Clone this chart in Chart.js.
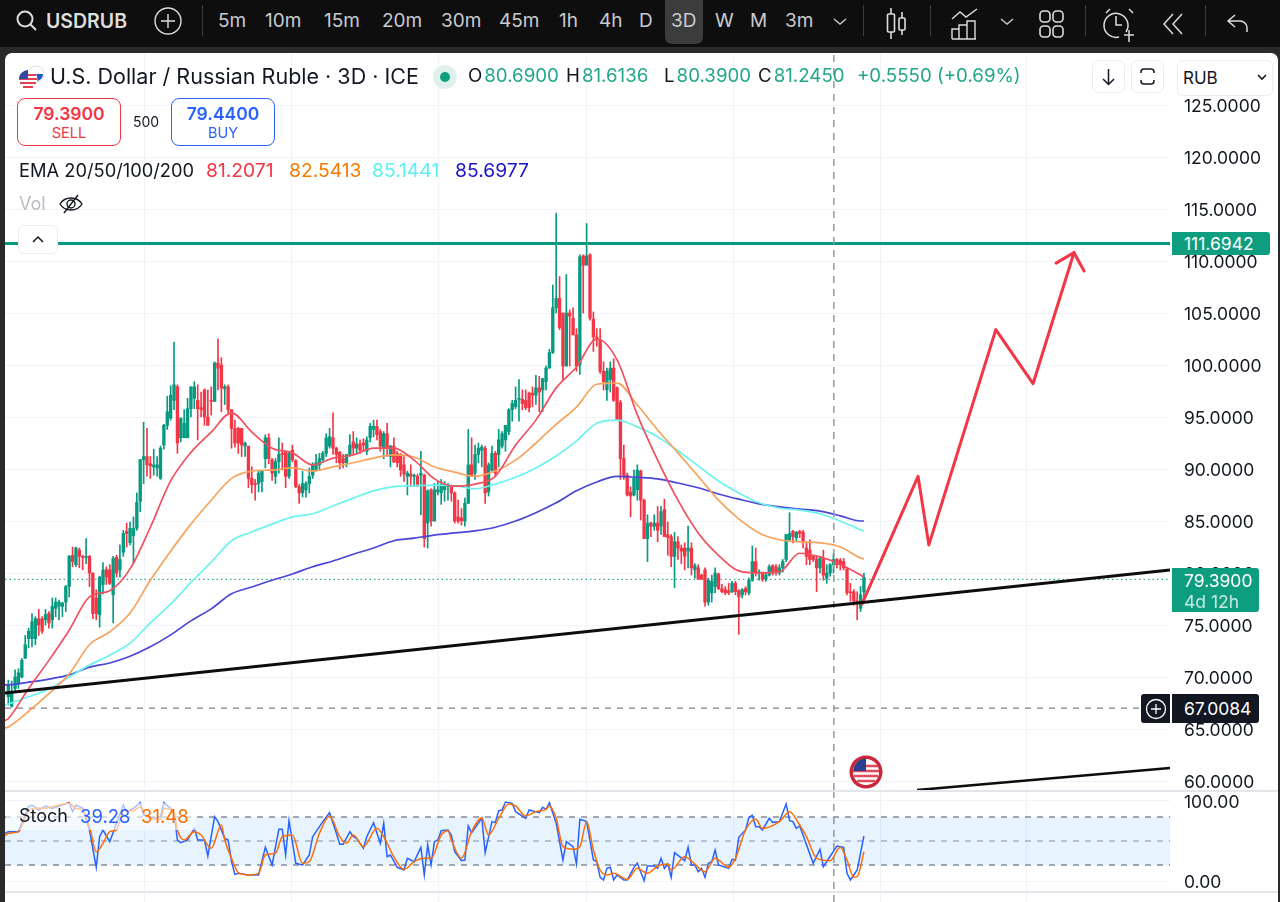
<!DOCTYPE html>
<html>
<head>
<meta charset="utf-8">
<title>USDRUB 3D</title>
<script src="https://cdn.jsdelivr.net/npm/chart.js@4"></script>
<style>
    html, body { margin: 0; padding: 0; width: 1280px; height: 902px; overflow: hidden; background: #2a2a2a; font-family: 'Inter', sans-serif; color: #131722; }
    .abs { position: absolute; white-space: nowrap; }
    #toolbar { position: absolute; left: 0; top: 0; width: 1280px; height: 47px; background: #0e0e0e; }
    #panel { position: absolute; left: 5px; top: 53px; width: 1273px; height: 849px; background: #fff; border-radius: 7px 7px 0 0; }
    #priceChart { position: absolute; left: 5px; top: 53px; }
    #stochChart { position: absolute; left: 5px; top: 792px; }
    .tf { position: absolute; top: 9px; font-size: 19px; line-height: 24px; color: #c8cad0; }
    .sep { position: absolute; top: 5px; width: 1px; height: 31px; background: #3d3d3d; }
    .ohlc { position: absolute; top: 64px; font-size: 18.7px; line-height: 24px; color: #22a68a; white-space: nowrap; }
    .ohlc b { font-weight: 400; color: #131722; margin-right: 2px; }
    .trade { position: absolute; top: 98px; width: 102px; height: 46px; border-radius: 8px; text-align: center; background: #fff; }
    .trade .p { font-size: 17.5px; font-weight: 600; line-height: 20px; margin-top: 5px; }
    .trade .s { font-size: 14.5px; line-height: 18px; }
    .btn { position: absolute; background: #fff; border: 1px solid #ececec; border-radius: 6px; box-sizing: border-box; }
    .sepH { position: absolute; left: 5px; width: 1273px; height: 2px; background: #e3e5ea; }
    .axisBox { position: absolute; left: 1172px; width: 87px; border-radius: 0 3px 3px 0; color: #fff; box-sizing: border-box; padding-left: 12px; font-size: 17.5px; }
    .emaVal { position: absolute; top: 158px; font-size: 19.3px; line-height: 24px; }
</style>
</head>
<body>
<div id="toolbar">
    <svg class="abs" style="left:15px;top:9px" width="24" height="24" fill="none" stroke="#ddd" stroke-width="2"><circle cx="10" cy="10" r="7.5"/><path d="M15.5 15.5L21 21"/></svg>
    <div class="abs" style="left:46px;top:9px;font-size:19.5px;line-height:24px;font-weight:600;color:#ddd">USDRUB</div>
    <svg class="abs" style="left:154px;top:7px" width="28" height="28" fill="none" stroke="#ddd" stroke-width="1.4"><circle cx="14" cy="14" r="13"/><path d="M14 7v14M7 14h14"/></svg>
    <div class="sep" style="left:202px"></div>
    <div class="abs" style="left:665px;top:0;width:38px;height:44px;background:#3c3c3c;border-radius:0 0 7px 7px"></div>
    <span class="tf" style="left:218px">5m</span><span class="tf" style="left:265px">10m</span><span class="tf" style="left:324px">15m</span>
    <span class="tf" style="left:382px">20m</span><span class="tf" style="left:441px">30m</span><span class="tf" style="left:499px">45m</span>
    <span class="tf" style="left:559px">1h</span><span class="tf" style="left:599px">4h</span><span class="tf" style="left:639px">D</span>
    <span class="tf" style="left:671px">3D</span><span class="tf" style="left:715px">W</span><span class="tf" style="left:750px">M</span><span class="tf" style="left:785px">3m</span>
    <svg class="abs" style="left:832px;top:17px" width="16" height="10" fill="none" stroke="#c8cad0" stroke-width="1.4"><path d="M2 2l6 5 6-5"/></svg>
    <div class="sep" style="left:863px"></div>
    <svg class="abs" style="left:885px;top:6px" width="24" height="36" fill="none" stroke="#ddd" stroke-width="1.6"><path d="M6 2v6M6 26v7M17 6v6M17 24v5"/><rect x="2.5" y="8" width="7" height="18" rx="1"/><rect x="14" y="12" width="6" height="12" rx="1"/></svg>
    <div class="sep" style="left:930px"></div>
    <svg class="abs" style="left:950px;top:7px" width="30" height="34" fill="none" stroke="#ddd" stroke-width="1.4"><path d="M2 12l8-7 6 5 11-8M2 32V22h7v10M9 32V18h8v14M17 32V14h8v18M2 32h24"/></svg>
    <svg class="abs" style="left:999px;top:17px" width="16" height="10" fill="none" stroke="#c8cad0" stroke-width="1.4"><path d="M2 2l6 5 6-5"/></svg>
    <svg class="abs" style="left:1038px;top:8px" width="26" height="32" fill="none" stroke="#ddd" stroke-width="1.6"><rect x="2" y="3" width="10" height="11" rx="3.5"/><rect x="15" y="3" width="10" height="11" rx="3.5"/><rect x="2" y="18" width="10" height="11" rx="3.5"/><rect x="15" y="18" width="10" height="11" rx="3.5"/></svg>
    <div class="sep" style="left:1085px"></div>
    <svg class="abs" style="left:1102px;top:6px" width="32" height="38" fill="none" stroke="#ddd" stroke-width="1.5"><path d="M24 26a12 12 0 1 0-7 5M14 10v9h6M4 7l4-4M27 3l4 4M22 29h10M27 24v12"/></svg>
    <svg class="abs" style="left:1161px;top:11px" width="24" height="26" fill="none" stroke="#ddd" stroke-width="1.5"><path d="M12 3L3 13l9 10M21 3l-9 10 9 10"/></svg>
    <div class="sep" style="left:1205px"></div>
    <svg class="abs" style="left:1226px;top:12px" width="24" height="24" fill="none" stroke="#ddd" stroke-width="1.5"><path d="M9 3L2 9l7 6M2 9h12a7 7 0 0 1 7 7v4"/></svg>
</div>
<div id="panel"></div>
<canvas id="priceChart" width="1273" height="737"></canvas>
<canvas id="stochChart" width="1273" height="110"></canvas>
<div class="sepH" style="top:790px"></div>
<div class="sepH" style="top:891px"></div>

<!-- legenda do topo -->
<svg class="abs" style="left:17px;top:65px" width="30" height="26">
    <circle cx="19" cy="9" r="8" fill="#fff" stroke="#ddd"/><path d="M12 9h14a7 7 0 0 1-7 7 7 7 0 0 1-7-7z" fill="#1c57c4"/>
    <circle cx="11" cy="14" r="9.5" fill="#fff"/><path d="M3 10h16M2 14h18M3 18h16M6 22h10" stroke="#e5414f" stroke-width="2"/><path d="M2 14a9 9 0 0 1 9-9v9z" fill="#2c4aa0"/>
</svg>
<div class="abs" style="left:50px;top:62px;font-size:21.5px;line-height:28px">U.S. Dollar / Russian Ruble · 3D · ICE</div>
<svg class="abs" style="left:433px;top:65px" width="24" height="24"><circle cx="12" cy="12" r="12" fill="#dff1ec"/><circle cx="12" cy="12" r="5" fill="#0f9d80"/></svg>
<div class="ohlc" style="left:468px"><b>O</b>80.6900</div>
<div class="ohlc" style="left:566px"><b>H</b>81.6136</div>
<div class="ohlc" style="left:664px"><b>L</b>80.3900</div>
<div class="ohlc" style="left:758px"><b>C</b>81.2450</div>
<div class="ohlc" style="left:857px">+0.5550 (+0.69%)</div>
<div class="btn" style="left:1092px;top:60px;width:33px;height:33px"><svg width="31" height="31" fill="none" stroke="#131722" stroke-width="1.5"><path d="M15.5 8v15M10 18l5.5 5.5L21 18"/></svg></div>
<div class="btn" style="left:1131px;top:60px;width:33px;height:33px"><svg width="31" height="31" fill="none" stroke="#131722" stroke-width="1.5"><path d="M9 12V11a3 3 0 0 1 3-3h7a3 3 0 0 1 3 3v1M9 19v1a3 3 0 0 0 3 3h7a3 3 0 0 0 3-3v-1"/></svg></div>
<div class="btn" style="left:1177px;top:60px;width:96px;height:36px;font-size:17px;line-height:34px;padding-left:5px">RUB<svg class="abs" style="left:79px;top:13px" width="10" height="8" fill="none" stroke="#131722" stroke-width="1.6"><path d="M1 1l4 4 4-4"/></svg></div>
<div class="trade" style="left:17px;border:1.5px solid #f23645;color:#f23645"><div class="p">79.3900</div><div class="s">SELL</div></div>
<div class="abs" style="left:133px;top:113px;font-size:14px;line-height:18px">500</div>
<div class="trade" style="left:171px;border:1.5px solid #2962ff;color:#2962ff"><div class="p">79.4400</div><div class="s">BUY</div></div>
<div class="abs" style="left:19px;top:158px;font-size:18.3px;line-height:24px">EMA 20/50/100/200</div>
<div class="emaVal" style="left:206px;color:#f23645">81.2071</div>
<div class="emaVal" style="left:289px;color:#f57c00">82.5413</div>
<div class="emaVal" style="left:372px;color:#5cf0f0">85.1441</div>
<div class="emaVal" style="left:455px;color:#1a14c8">85.6977</div>
<div class="abs" style="left:19px;top:192px;font-size:18px;line-height:24px;color:#b8bbc2">Vol</div>
<svg class="abs" style="left:58px;top:192px" width="26" height="24" fill="none" stroke="#131722" stroke-width="1.4"><path d="M2 12c5-8 17-8 22 0-5 8-17 8-22 0z"/><circle cx="13" cy="12" r="4"/><path d="M20 3L6 21"/></svg>
<div class="btn" style="left:18px;top:225px;width:40px;height:29px"><svg width="38" height="27" fill="none" stroke="#131722" stroke-width="1.5"><path d="M14 16l5-5 5 5"/></svg></div>

<!-- etiquetas do eixo -->
<div class="axisBox" style="top:232px;width:98px;height:23px;background:#0f9d80;line-height:23px">111.6942</div>
<div class="axisBox" style="top:568px;height:44px;background:#0f9d80;line-height:21px;padding-top:2px">79.3900<br><span style="color:#c6e9e0">4d 12h</span></div>
<div class="axisBox" style="top:694px;height:29px;background:#131722;line-height:29px">67.0084</div>
<div class="abs" style="left:1141px;top:694px;width:29px;height:29px;background:#131722;border-radius:3px 0 0 3px"><svg width="29" height="29" fill="none" stroke="#fff" stroke-width="1.3"><circle cx="15" cy="15" r="9.5"/><path d="M15 10v10M10 15h10"/></svg></div>

<!-- bandeira -->
<svg class="abs" style="left:849px;top:755px" width="34" height="34">
    <circle cx="17" cy="17" r="16.5" fill="#c9283c"/><circle cx="17" cy="17" r="13" fill="#fff"/>
    <path d="M5 11h24M4 16h26M5 21h24M8 26h18" stroke="#e04a5a" stroke-width="2.5"/><path d="M4.5 16a12.5 12.5 0 0 1 12.5-12.5V16z" fill="#2c3f8f"/>
</svg>

<!-- legenda do estocastico -->
<div class="abs" style="left:6px;top:803px;width:190px;height:27px;background:rgba(255,255,255,0.6)"></div>
<div class="abs" style="left:19px;top:804px;font-size:18px;line-height:24px">Stoch</div>
<div class="abs" style="left:80px;top:804px;font-size:18.5px;line-height:24px;color:#2962ff">39.28</div>
<div class="abs" style="left:141px;top:804px;font-size:18.5px;line-height:24px;color:#ff6d00">31.48</div>

<script>
// Chart.js defaults
Chart.defaults.font.family = "'Inter', sans-serif";
Chart.defaults.color = '#131722';

// Candles (USDRUB 3D)
const opens = [
    68.1,67.2,68.9,69.4,70.0,71.8,73.7,73.7,73.7,75.6,
    75.6,75.5,76.1,75.5,76.6,76.8,76.8,77.2,78.7,81.7,
    80.8,82.2,81.6,81.5,81.6,80.0,77.6,76.0,78.9,80.3,
    80.3,77.9,81.5,80.3,82.0,84.0,82.9,83.6,84.3,86.9,
    90.9,91.2,90.5,90.2,90.1,89.1,92.3,94.2,94.9,96.6,
    97.9,93.0,93.0,93.0,95.8,96.8,96.6,95.9,97.6,95.0,
    96.6,96.5,100.2,100.0,97.7,97.9,95.7,93.9,93.9,93.9,
    92.2,92.2,89.1,88.6,88.6,88.8,91.0,93.0,90.9,89.3,
    90.7,91.5,91.6,89.3,91.8,90.8,88.3,87.7,88.0,88.6,
    89.4,89.9,90.4,90.9,91.5,92.2,93.0,92.0,91.6,91.0,
    90.6,91.4,92.6,92.0,92.4,92.5,91.7,93.0,93.8,94.1,
    93.6,92.0,93.4,91.2,92.2,91.5,91.4,90.4,89.3,89.5,
    89.3,89.3,89.4,89.4,84.8,88.0,85.0,87.8,87.7,88.0,
    88.3,88.3,87.7,85.4,85.3,85.0,86.7,90.4,89.6,91.4,
    91.8,92.0,87.8,89.9,91.5,91.4,92.2,92.8,93.6,95.7,
    96.0,96.7,96.7,96.6,97.3,97.3,97.1,97.8,97.6,98.4,
    99.7,101.2,105.5,106.4,105.0,99.9,105.0,104.5,102.9,100.0,
    110.5,109.6,110.6,104.4,102.7,102.4,99.4,97.6,98.6,99.7,
    97.8,96.4,91.0,89.4,87.8,87.5,88.0,89.8,87.0,83.3,
    84.8,84.5,84.8,84.5,86.1,83.7,83.5,81.6,83.0,82.4,
    82.4,82.1,82.4,80.3,80.5,79.8,80.3,77.2,78.1,78.7,
    79.9,78.5,78.4,78.3,78.2,79.0,78.3,77.9,78.5,78.1,
    79.3,81.1,80.0,80.0,79.4,79.8,80.7,80.6,80.0,80.5,
    81.3,83.2,84.0,83.4,84.0,83.9,82.4,82.2,81.6,81.3,
    80.5,81.4,79.5,80.0,80.8,81.3,81.2,81.1,80.4,78.2,
    78.2,77.3,76.6,78.2
];
const highs = [
    69.7,69.6,70.7,70.8,71.8,74.0,74.7,76.1,75.8,76.5,
    75.8,76.5,76.3,77.6,77.6,77.4,77.2,78.8,81.7,82.5,
    82.5,82.4,81.7,83.3,81.7,80.0,78.4,79.7,81.0,80.6,
    80.8,81.6,81.7,82.7,84.1,84.8,84.9,85.4,87.7,90.9,
    94.5,93.9,91.2,91.9,91.2,92.2,94.3,97.0,98.0,102.2,
    98.1,94.9,95.7,96.8,97.9,98.4,98.1,97.4,97.7,97.6,
    97.9,100.3,102.5,100.7,98.1,98.1,95.7,94.7,94.0,93.9,
    92.6,92.2,90.2,89.0,89.8,89.8,93.3,93.4,91.0,91.0,
    93.0,92.5,91.7,91.7,92.3,90.9,88.5,89.8,88.8,90.1,
    90.6,91.4,91.5,91.7,93.4,93.9,95.4,92.1,91.7,91.4,
    91.4,93.3,93.6,93.0,92.8,92.9,93.1,94.4,94.7,94.7,
    93.8,93.6,94.4,92.3,93.0,91.7,91.5,91.2,89.8,90.4,
    89.5,89.5,91.7,89.5,88.0,88.1,88.6,88.8,89.0,88.8,
    88.6,88.3,87.8,87.0,86.2,87.2,93.8,93.0,92.3,92.5,
    92.3,92.2,90.6,92.2,91.7,93.8,93.6,94.2,95.8,96.6,
    97.9,98.6,97.6,97.6,97.4,97.9,99.0,98.9,98.7,99.9,
    101.5,107.7,114.6,108.5,105.0,108.7,105.3,105.5,103.5,110.6,
    110.6,113.6,110.7,105.1,103.5,103.5,100.3,99.7,100.3,100.6,
    97.9,96.6,92.3,89.6,88.3,89.9,90.4,89.9,87.1,85.6,
    84.9,85.6,86.4,86.4,87.1,84.9,83.7,83.9,83.5,82.7,
    82.9,84.5,82.9,80.9,80.8,79.9,80.5,79.5,79.8,80.5,
    80.0,78.9,78.7,79.0,79.2,79.2,78.4,78.5,78.7,79.5,
    82.6,82.4,80.3,80.1,80.0,80.8,80.8,80.8,80.8,81.3,
    83.7,85.8,84.1,84.0,84.1,84.1,83.0,83.2,81.7,81.6,
    81.6,82.2,80.8,80.9,81.9,81.4,81.4,81.4,80.5,79.0,
    78.4,78.2,78.7,80.0
];
const lows = [
    67.3,67.1,68.6,68.9,69.9,71.8,72.8,72.9,73.1,74.0,
    74.2,75.0,74.7,74.7,75.8,75.5,75.8,76.3,77.7,80.6,
    80.6,80.5,80.3,80.9,78.7,75.6,75.5,74.8,78.0,78.9,
    78.9,75.2,79.6,79.6,81.6,82.5,82.7,80.9,84.1,85.9,
    88.6,89.3,89.1,89.4,89.3,89.0,91.9,93.8,94.7,95.7,
    91.5,92.6,93.0,93.0,95.0,95.8,92.8,95.0,94.2,94.2,
    95.2,96.5,97.6,95.5,96.2,95.4,92.0,92.1,91.5,91.2,
    91.2,88.2,87.7,87.0,87.8,87.8,90.1,90.5,88.9,88.6,
    89.6,89.9,88.2,89.1,90.7,88.2,86.7,87.3,87.3,87.7,
    89.1,89.8,89.9,90.7,91.2,92.0,91.4,90.6,90.0,90.1,
    90.2,91.2,91.4,91.5,91.5,91.7,91.4,92.6,93.1,92.8,
    91.7,91.0,91.2,90.2,90.6,90.2,89.3,88.8,87.5,88.3,
    88.3,88.3,85.6,82.5,82.4,84.5,85.0,87.5,86.6,86.9,
    87.0,86.9,84.8,84.8,84.6,84.5,86.7,89.3,89.0,90.6,
    90.2,86.7,87.4,89.8,89.3,90.2,92.0,91.7,93.3,94.6,
    95.8,94.6,95.7,95.7,95.5,96.0,96.2,95.5,95.5,97.6,
    99.7,101.1,105.0,103.4,98.6,99.9,99.9,102.9,99.4,99.1,
    105.0,109.6,104.3,101.3,101.8,99.2,97.6,96.6,97.4,96.5,
    94.7,89.0,89.0,87.4,85.4,87.4,87.0,85.1,83.3,81.1,
    83.5,84.1,83.0,83.7,83.5,81.7,80.6,78.6,81.3,80.9,
    80.3,80.5,79.8,79.5,79.4,79.4,76.8,76.9,77.2,78.1,
    78.4,78.1,77.9,77.9,78.1,77.9,74.1,77.6,77.9,77.9,
    79.2,79.7,79.3,79.2,79.2,79.7,79.8,79.8,79.8,80.1,
    81.1,83.0,82.9,83.0,83.4,82.4,80.8,80.8,81.1,78.2,
    80.0,79.3,79.0,79.7,80.0,80.5,80.3,80.3,77.9,77.3,
    76.9,75.5,76.3,77.1
];
const closes = [
    69.2,68.6,70.0,70.4,71.6,73.1,74.4,75.3,75.6,75.0,
    74.4,76.0,75.2,76.8,77.2,77.2,77.1,78.7,81.6,81.1,
    82.4,81.6,81.5,81.6,80.0,76.1,76.1,79.6,80.3,79.6,
    79.0,81.4,80.0,81.3,83.8,83.8,84.3,84.3,86.8,90.9,
    91.2,90.4,90.3,90.4,90.4,92.0,94.2,95.5,97.1,98.1,
    92.5,94.9,94.4,95.8,97.9,97.9,95.8,95.7,95.0,94.2,
    96.5,100.2,99.7,97.8,97.9,95.7,93.9,92.5,92.5,92.3,
    92.5,89.1,88.5,88.5,89.6,89.8,93.0,91.0,89.6,90.7,
    91.4,91.4,89.3,91.5,90.9,88.3,87.7,88.6,88.6,89.3,
    90.4,90.6,91.0,91.5,93.0,93.1,92.0,91.4,90.6,90.6,
    91.4,92.3,92.0,92.4,91.8,92.3,92.8,94.1,94.1,93.3,
    92.2,93.4,92.0,92.2,90.7,90.6,89.9,89.5,89.6,89.3,
    89.4,88.5,89.6,83.3,87.9,85.0,88.0,88.0,88.5,88.5,
    88.5,87.7,85.0,85.0,85.0,86.7,90.4,89.3,91.4,92.0,
    92.1,87.7,90.4,91.5,89.6,92.8,93.4,94.2,95.7,96.3,
    96.6,96.8,96.3,95.9,95.9,97.1,97.8,97.4,98.7,99.7,
    101.2,105.5,106.4,103.6,99.9,105.0,104.7,102.9,99.9,110.4,
    109.6,110.5,104.5,102.7,102.4,99.4,98.4,99.4,99.7,96.6,
    94.7,91.0,89.3,87.5,87.4,89.1,89.9,87.0,83.3,84.8,
    84.5,84.8,84.1,85.9,83.5,83.4,81.6,83.0,82.4,82.1,
    81.6,82.4,80.5,80.7,79.4,79.4,77.2,79.3,79.2,80.0,
    78.5,78.2,78.1,78.1,79.0,78.2,77.7,78.4,78.2,79.3,
    81.1,80.0,80.1,79.4,79.8,80.6,80.1,80.1,80.5,81.1,
    83.7,83.8,83.5,83.9,83.8,83.0,81.6,81.3,81.3,80.5,
    81.4,79.8,80.0,80.8,81.3,80.8,80.8,80.5,78.1,78.1,
    77.3,77.1,77.9,79.6
];

// EMAs, lidas a cada 6 candles
const emaBars = [-1,0,6,12,18,24,30,36,42,48,54,60,66,72,78,84,90,96,102,108,114,120,126,132,138,144,150,156,162,168,174,180,186,192,198,204,210,216,222,228,234,240,246,252,253];
const ema20 = [65.8,66.0,68.9,71.6,74.5,77.7,78.3,80.4,84.4,88.85,91.6,93.55,95.4,93.55,92.0,91.55,90.4,91.05,91.35,92.0,92.0,90.85,89.05,88.35,88.55,89.3,92.3,94.7,97.8,99.8,102.5,100.5,95.2,90.85,87.0,83.85,81.7,80.2,80.0,80.1,81.9,81.55,80.85,79.8,79.6];
const ema50 = [65.1,65.2,66.7,68.4,70.3,73.1,74.35,76.15,79.3,82.1,84.7,87.0,89.1,89.8,89.9,90.1,89.8,90.2,90.6,91.05,91.35,91.15,90.2,89.7,89.3,89.8,90.85,92.5,94.3,95.95,98.15,98.25,96.15,93.75,91.55,89.3,87.0,85.2,83.85,83.2,83.0,82.9,82.5,81.45,81.35];
const ema100 = [67.3,67.4,68.1,68.85,70.0,71.15,72.1,73.25,75.2,77.0,79.1,81.05,83.1,83.95,84.7,85.4,85.7,86.45,87.2,87.9,88.3,88.4,88.45,88.4,88.1,88.55,89.2,90.1,91.25,92.7,94.4,94.7,94.05,93.1,91.75,90.3,88.85,87.7,86.75,86.25,86.05,85.7,85.0,84.15,84.05];
const ema200 = [69.25,69.25,69.5,69.8,70.2,70.95,71.35,72.0,72.9,74.05,75.4,76.55,78.0,78.65,79.3,79.9,80.6,81.15,81.8,82.4,83.1,83.35,83.65,83.85,84.05,84.4,85.0,85.8,86.75,87.9,88.75,89.3,89.2,89.05,88.65,88.2,87.6,87.1,86.65,86.35,86.15,85.95,85.5,85.0,85.0];

// Estocastico
const kBars = [-1,0,3,6,7,9,11,13,18,19,20,22,24,26,27,28,30,32,34,35,37,39,40,43,45,46,48,49,50,51,53,55,56,58,59,61,62,64,65,66,67,68,71,74,76,78,80,81,82,83,85,87,89,90,93,95,97,98,99,101,102,103,105,106,108,110,111,112,113,115,117,118,120,122,123,124,125,126,127,128,130,131,132,134,135,136,137,140,141,143,144,145,146,147,149,150,153,154,157,158,159,160,162,164,165,167,168,169,171,173,174,175,176,177,178,179,180,182,183,185,186,188,189,191,192,193,194,195,196,197,200,201,202,203,204,205,206,207,208,209,210,213,214,215,216,218,219,220,221,222,223,225,226,228,230,231,232,233,234,238,240,241,245,247,248,249,251,253];
const kValues = [59.6,61.7,61.7,93,95,88.7,93.75,90.8,97.9,86.7,95,90.8,63.75,17.1,55.4,63.75,49.2,72.1,95,86.7,90.8,97.9,82.5,78.3,80.4,97.9,90.8,84.6,51.25,47.9,51.25,65.8,51.25,51.25,31.25,80.4,74.2,53.3,51.25,24.2,8.3,9.6,7.5,7.5,42.1,20,64.6,64.6,32.5,75.4,22.1,20,32.5,55.4,74.2,85.4,59.6,45.8,45.8,61.7,55.4,53.3,40.8,55.4,72.9,47.1,72.1,30.4,32.5,17.1,13.75,28.3,24.2,42.1,7.5,45,20,49.2,51.25,62.9,63.75,57.5,36.65,25.4,26.25,68.75,60.4,78.75,35.4,74.2,72.9,87.9,88.75,98.75,97.1,86.7,78.3,88.75,85.4,92.1,89.6,97.9,72.1,26.25,49.2,42.9,21.25,77.1,74.2,26.25,24.2,4.6,1.25,15.8,17.1,1.25,7.5,1.25,1.25,17.1,22.1,0.4,18.75,18.75,15.8,28.3,15.8,21.25,4.6,35.4,25.4,42.1,20,20,11.7,15.8,4.6,22.1,24.2,38.75,20,15.8,27.1,26.25,54.6,63.75,79.6,82.1,67.9,67.9,63.75,78.3,73.3,74.2,96.25,75.4,74.2,65.8,68.75,22.1,39.6,17.9,43.75,42.1,9.6,1.25,13.75,56.25];
const dBars = [-1,0,3,6,8,11,13,18,20,22,24,26,28,30,32,34,37,39,41,45,46,49,50,52,55,57,60,63,64,66,68,71,74,76,79,81,84,87,89,92,95,98,100,102,105,109,111,114,117,120,123,125,128,130,131,134,137,140,142,145,148,150,153,156,159,160,162,164,167,169,171,173,175,177,179,183,186,189,192,195,196,200,203,206,209,213,215,218,221,223,228,231,234,236,239,243,246,248,250,251,253];
const dValues = [56.25,59.6,61.7,87.9,90.8,90.8,92.9,97.1,90.8,88.75,67.9,36.65,47.1,61.7,63.75,87.9,87.9,92.9,80.4,77.1,90.8,84.6,63.75,51.25,61.7,57.5,40.8,70,51.25,28.3,10.4,7.5,9.6,32.5,34.6,55.4,57.5,22.1,24.2,59.6,81.25,55.4,47.1,57.5,42.9,65.8,55.4,30.4,14.6,24.2,28.3,28.3,57.5,62.9,51.25,28.3,61.7,78.75,57.5,78.3,96.25,93.75,81.25,86.7,89.6,93.75,78.3,42.9,39.6,42.9,74.2,38.75,13.75,7.5,9.6,2.1,15.8,9.6,18.75,21.25,13.75,30.4,21.25,11.7,28.3,17.1,28.3,63.75,77.1,65.8,74.2,86.7,70,55.4,28.3,25.4,42.1,26.25,4.6,5.4,36.65];
const stochLevels = [80, 50, 20];
const stochTicks = [100, 0];

// Niveis e desenhos
const resistanceLevel = 111.6942;
const lastPrice = 79.39;
const alertLevel = 67.0084;
const trendBars = [-1, 343.5];
const trendPrices = [68.46, 80.29];
const lowerTrendBars = [268.7, 343.5];
const lowerTrendPrices = [59.13, 61.25];
const arrowBars = [252.4, 269, 272.2, 292, 303, 315.1];
const arrowPrices = [77.0, 89.3, 82.7, 103.4, 98.2, 110.8];
const arrowHeadBars = [309.8, 315.1, 318.1];
const arrowHeadPrices = [109.8, 110.8, 109.04];
const crosshairBar = 244.1;
const gridBars = [40.4, 83.7, 127.1, 170.9, 214.3, 257.8, 301.2];

const GREEN = '#089981';
const RED = '#f23645';
const GRID = '#f1f3f8';
const X_MIN = -0.98;
const X_MAX = 343.5;

function points(xs, ys) {
    return xs.map((x, i) => ({ x: x, y: ys[i] }));
}

function lineSet(data, color, width, extra) {
    return Object.assign({
        type: 'line',
        data: data,
        borderColor: color,
        borderWidth: width,
        pointRadius: 0,
        fill: false,
        order: 1
    }, extra || {});
}

function xAxis() {
    return {
        type: 'linear',
        min: X_MIN,
        max: X_MAX,
        offset: false,
        border: { display: false },
        grid: { color: GRID, drawTicks: false, offset: false },
        ticks: { display: false },
        afterBuildTicks: (scale) => { scale.ticks = gridBars.map(v => ({ value: v })); },
        afterFit: (scale) => { scale.height = 0; }
    };
}

function fitAxis(scale) {
    scale.width = 108;
    scale.paddingTop = 0;
    scale.paddingBottom = 0;
}

const baseOptions = {
    responsive: false,
    animation: false,
    events: [],
    layout: { padding: 0 },
    plugins: { legend: { display: false }, tooltip: { enabled: false } }
};

function renderPriceChart() {
    const ctx = document.getElementById('priceChart').getContext('2d');
    const barColors = closes.map((c, i) => (c >= opens[i] ? GREEN : RED));
    const yMin = 59.135;
    const yMax = 130;
    const level = (v) => points([X_MIN, X_MAX], [v, v]);

    new Chart(ctx, {
        type: 'bar',
        data: {
            datasets: [
                lineSet(level(resistanceLevel), GREEN, 3, { order: 4 }),
                lineSet(level(lastPrice), GREEN, 1, { borderDash: [1.5, 3], order: 7 }),
                lineSet(points([X_MIN, 335], [alertLevel, alertLevel]), '#787b86', 1.2, { borderDash: [6, 6], order: 7 }),
                lineSet(points(trendBars, trendPrices), '#0d0d0d', 3),
                lineSet(points(lowerTrendBars, lowerTrendPrices), '#0d0d0d', 2.5),
                lineSet(points(arrowBars, arrowPrices), RED, 3, { borderCapStyle: 'round', borderJoinStyle: 'round' }),
                lineSet(points(arrowHeadBars, arrowHeadPrices), RED, 3, { borderCapStyle: 'round' }),
                lineSet(points([crosshairBar, crosshairBar], [yMin, yMax]), '#9598a1', 1.5, { borderDash: [7, 6], order: 2 }),
                lineSet(points(emaBars, ema20), '#f0505f', 1.7, { cubicInterpolationMode: 'monotone', order: 3 }),
                lineSet(points(emaBars, ema50), '#f7a35c', 1.7, { cubicInterpolationMode: 'monotone', order: 3 }),
                lineSet(points(emaBars, ema100), '#6cf3ee', 1.7, { cubicInterpolationMode: 'monotone', order: 3 }),
                lineSet(points(emaBars, ema200), '#4a46d8', 1.7, { cubicInterpolationMode: 'monotone', order: 3 }),
                {
                    // corpo
                    data: opens.map((o, i) => ({ x: i, y: [o, closes[i]] })),
                    backgroundColor: barColors,
                    barThickness: 2.7,
                    minBarLength: 1,
                    grouped: false,
                    order: 5
                },
                {
                    // pavio
                    data: highs.map((h, i) => ({ x: i, y: [lows[i], h] })),
                    backgroundColor: barColors,
                    barThickness: 1,
                    grouped: false,
                    order: 6
                }
            ]
        },
        options: Object.assign({}, baseOptions, {
            scales: {
                x: xAxis(),
                y: {
                    position: 'right',
                    min: yMin,
                    max: yMax,
                    border: { display: false },
                    grid: {
                        drawTicks: false,
                        color: (c) => (c.tick && c.tick.value > 125 ? 'transparent' : GRID)
                    },
                    ticks: {
                        stepSize: 5,
                        includeBounds: false,
                        padding: 14,
                        labelOffset: 2,
                        color: '#131722',
                        font: { size: 17.5 },
                        callback: (v) => (v > 125 ? '' : v.toFixed(4))
                    },
                    afterFit: fitAxis
                }
            }
        })
    });
}

function renderStochChart() {
    const ctx = document.getElementById('stochChart').getContext('2d');
    const yMin = -26.25;
    const yMax = 111.25;
    const levelSets = stochLevels.map((v, i) => lineSet(points([X_MIN, X_MAX], [v, v]), i === 1 ? '#a6a9b2' : '#787b86', 1.3, {
        borderDash: [6, 6],
        order: 4,
        fill: i === 0 ? { target: { value: stochLevels[2] } } : false,
        backgroundColor: 'rgba(33, 150, 243, 0.11)'
    }));

    new Chart(ctx, {
        type: 'line',
        data: {
            datasets: levelSets.concat([
                lineSet(points([crosshairBar, crosshairBar], [yMin, yMax]), '#9598a1', 1.5, { borderDash: [7, 6], order: 3 }),
                lineSet(points(kBars, kValues), '#2962ff', 1.5, { order: 2 }),
                lineSet(points(dBars, dValues), '#ff6d00', 1.5, { order: 1, cubicInterpolationMode: 'monotone' })
            ])
        },
        options: Object.assign({}, baseOptions, {
            scales: {
                x: xAxis(),
                y: {
                    position: 'right',
                    min: yMin,
                    max: yMax,
                    border: { display: false },
                    grid: { color: GRID, drawTicks: false },
                    afterBuildTicks: (scale) => { scale.ticks = stochTicks.map(v => ({ value: v })); },
                    ticks: {
                        padding: 14,
                        labelOffset: 2,
                        color: '#131722',
                        font: { size: 17.5 },
                        callback: (v) => v.toFixed(2)
                    },
                    afterFit: fitAxis
                }
            }
        })
    });
}

renderPriceChart();
renderStochChart();
</script>
</body>
</html>
